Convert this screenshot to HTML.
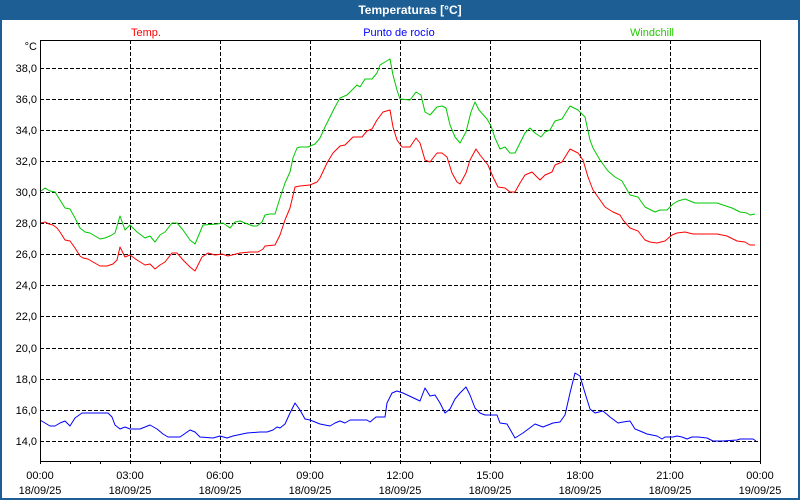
<!DOCTYPE html>
<html><head><meta charset="utf-8"><style>
html,body{margin:0;padding:0;background:#1d5e95;}
svg{display:block;}
text{font-family:"Liberation Sans",Tahoma,sans-serif;font-size:11px;}
</style></head><body>
<svg width="800" height="500" viewBox="0 0 800 500" xmlns="http://www.w3.org/2000/svg">
<rect x="0" y="0" width="800" height="500" fill="#1d5e95"/>
<rect x="2" y="20" width="796" height="478" fill="#ffffff"/>
<text x="410" y="14" fill="#ffffff" text-anchor="middle" style="font-weight:bold;font-size:12px">Temperaturas [°C]</text>
<text x="146" y="36" fill="#ff0000" text-anchor="middle">Temp.</text>
<text x="399" y="36" fill="#0000ff" text-anchor="middle">Punto de rocío</text>
<text x="652" y="36" fill="#22cc00" text-anchor="middle">Windchill</text>
<text x="37" y="50" text-anchor="end" fill="#000">°C</text>
<g stroke="#000" stroke-width="1" stroke-dasharray="4 2" fill="none" shape-rendering="crispEdges">
<line x1="40" y1="68.5" x2="760" y2="68.5"/>
<line x1="40" y1="99.5" x2="760" y2="99.5"/>
<line x1="40" y1="130.5" x2="760" y2="130.5"/>
<line x1="40" y1="161.5" x2="760" y2="161.5"/>
<line x1="40" y1="192.5" x2="760" y2="192.5"/>
<line x1="40" y1="223.5" x2="760" y2="223.5"/>
<line x1="40" y1="254.5" x2="760" y2="254.5"/>
<line x1="40" y1="285.5" x2="760" y2="285.5"/>
<line x1="40" y1="316.5" x2="760" y2="316.5"/>
<line x1="40" y1="348.5" x2="760" y2="348.5"/>
<line x1="40" y1="379.5" x2="760" y2="379.5"/>
<line x1="40" y1="410.5" x2="760" y2="410.5"/>
<line x1="40" y1="441.5" x2="760" y2="441.5"/>
<line x1="130.5" y1="40" x2="130.5" y2="461"/>
<line x1="220.5" y1="40" x2="220.5" y2="461"/>
<line x1="310.5" y1="40" x2="310.5" y2="461"/>
<line x1="400.5" y1="40" x2="400.5" y2="461"/>
<line x1="490.5" y1="40" x2="490.5" y2="461"/>
<line x1="580.5" y1="40" x2="580.5" y2="461"/>
<line x1="670.5" y1="40" x2="670.5" y2="461"/>
</g>
<g fill="#000" text-anchor="end">
<text x="37" y="72">38,0</text>
<text x="37" y="103">36,0</text>
<text x="37" y="134">34,0</text>
<text x="37" y="165">32,0</text>
<text x="37" y="196">30,0</text>
<text x="37" y="227">28,0</text>
<text x="37" y="258">26,0</text>
<text x="37" y="289">24,0</text>
<text x="37" y="320">22,0</text>
<text x="37" y="352">20,0</text>
<text x="37" y="383">18,0</text>
<text x="37" y="414">16,0</text>
<text x="37" y="445">14,0</text>
</g>
<g fill="#000" text-anchor="middle">
<text x="40" y="479">00:00</text><text x="40" y="494">18/09/25</text>
<text x="130" y="479">03:00</text><text x="130" y="494">18/09/25</text>
<text x="220" y="479">06:00</text><text x="220" y="494">18/09/25</text>
<text x="310" y="479">09:00</text><text x="310" y="494">18/09/25</text>
<text x="400" y="479">12:00</text><text x="400" y="494">18/09/25</text>
<text x="490" y="479">15:00</text><text x="490" y="494">18/09/25</text>
<text x="580" y="479">18:00</text><text x="580" y="494">18/09/25</text>
<text x="670" y="479">21:00</text><text x="670" y="494">18/09/25</text>
<text x="760" y="479">00:00</text><text x="760" y="494">19/09/25</text>
</g>
<g fill="none" stroke-width="1" stroke-linejoin="round">
<polyline stroke="#00c800" points="41,191 45,188 50,191 55,192 60,200 65,208 70,209 75,218 80,228 85,232 90,233 95,236 100,239 105,238 110,236 115,233 120,216 125,230 130,225 137,232 145,238 150,236 155,242 160,235 165,232 172,223 177,223 183,230 190,240 195,244 203,225 217,224 223,223 230,228 235,222 240,221 245,223 253,226 257,226 262,222 265,215 270,214 275,214 280,198 285,183 290,172 293,158 297,148 300,147 308,147 315,144 320,138 325,127 330,117 335,107 340,98 347,95 352,90 357,85 360,87 365,79 372,79 377,73 380,65 385,62 390,59 393,75 397,90 400,99 410,100 416,92 421,95 425,112 430,115 437,107 442,106 446,108 450,125 455,137 460,143 466,132 471,112 475,102 479,110 487,119 491,126 495,138 500,149 505,147 510,153 515,153 520,143 525,133 530,128 535,133 541,137 545,132 550,130 555,121 562,119 570,106 578,110 585,117 590,140 593,148 600,160 605,167 608,171 615,177 622,181 630,195 638,197 645,207 655,212 660,210 667,210 673,204 678,201 685,199 695,203 717,203 723,205 732,208 740,212 747,213 750,215 755,214"/>
<polyline stroke="#ff0000" points="41,223 45,222 49,224 53,225 57,228 60,232 65,240 70,241 75,248 80,256 83,258 88,259 93,262 100,266 107,266 113,264 117,260 120,247 125,257 130,255 137,260 145,265 150,264 155,269 160,265 165,262 172,253 177,253 183,260 190,267 195,271 202,257 208,253 215,255 222,254 228,256 240,253 250,252 258,252 263,249 265,246 275,245 280,235 285,220 290,208 295,187 300,186 310,185 317,182 320,178 327,163 333,153 340,146 345,145 353,137 362,137 367,131 372,129 377,120 383,112 390,110 393,127 397,140 402,147 410,147 416,138 420,143 425,160 430,162 437,153 442,153 447,157 452,173 457,182 460,184 466,173 470,160 476,149 480,155 488,165 493,177 498,187 505,188 510,192 515,192 520,183 525,175 532,172 540,180 545,175 552,172 555,165 562,162 570,149 578,153 583,160 588,177 593,190 598,197 605,207 613,212 620,215 623,220 630,228 638,231 645,240 650,242 657,243 665,241 672,235 677,233 685,232 693,234 717,234 727,236 737,241 745,242 750,245 755,245"/>
<polyline stroke="#0000ff" points="40,420 45,423 50,426 55,426 60,423 65,421 70,426 75,418 82,413 100,413 108,413 112,417 115,425 120,429 125,427 130,429 140,429 150,425 157,429 163,434 168,437 180,437 190,430 195,432 200,437 213,438 220,436 227,438 233,436 247,433 260,432 267,432 273,430 277,427 280,428 285,424 290,413 295,403 300,410 305,419 310,420 320,424 330,426 335,423 340,421 345,423 350,420 367,420 370,422 376,417 385,417 387,403 392,393 397,391 403,393 420,401 425,388 430,396 435,395 440,403 445,413 450,409 455,399 460,393 466,387 470,395 475,408 480,413 485,415 497,415 500,423 507,424 515,438 523,433 535,424 543,427 553,423 560,422 565,415 570,393 575,373 580,376 585,393 590,409 595,413 603,411 610,417 618,423 623,422 630,421 635,429 640,431 647,434 657,436 662,439 665,437 673,437 677,436 682,437 687,439 692,437 698,437 707,438 713,441 723,441 737,440 740,439 753,439 756,441"/>
</g>
<rect x="40.5" y="40.5" width="720" height="421" fill="none" stroke="#000" stroke-width="1" shape-rendering="crispEdges"/>
<g stroke="#000" stroke-width="1" shape-rendering="crispEdges">
<line x1="70.5" y1="461" x2="70.5" y2="464"/><line x1="100.5" y1="461" x2="100.5" y2="464"/>
<line x1="130.5" y1="461" x2="130.5" y2="464"/><line x1="160.5" y1="461" x2="160.5" y2="464"/>
<line x1="190.5" y1="461" x2="190.5" y2="464"/><line x1="220.5" y1="461" x2="220.5" y2="464"/>
<line x1="250.5" y1="461" x2="250.5" y2="464"/><line x1="280.5" y1="461" x2="280.5" y2="464"/>
<line x1="310.5" y1="461" x2="310.5" y2="464"/><line x1="340.5" y1="461" x2="340.5" y2="464"/>
<line x1="370.5" y1="461" x2="370.5" y2="464"/><line x1="400.5" y1="461" x2="400.5" y2="464"/>
<line x1="430.5" y1="461" x2="430.5" y2="464"/><line x1="460.5" y1="461" x2="460.5" y2="464"/>
<line x1="490.5" y1="461" x2="490.5" y2="464"/><line x1="520.5" y1="461" x2="520.5" y2="464"/>
<line x1="550.5" y1="461" x2="550.5" y2="464"/><line x1="580.5" y1="461" x2="580.5" y2="464"/>
<line x1="610.5" y1="461" x2="610.5" y2="464"/><line x1="640.5" y1="461" x2="640.5" y2="464"/>
<line x1="670.5" y1="461" x2="670.5" y2="464"/><line x1="700.5" y1="461" x2="700.5" y2="464"/>
<line x1="730.5" y1="461" x2="730.5" y2="464"/><line x1="40.5" y1="461" x2="40.5" y2="464"/>
<line x1="760.5" y1="461" x2="760.5" y2="464"/>
</g>
</svg>
</body></html>
